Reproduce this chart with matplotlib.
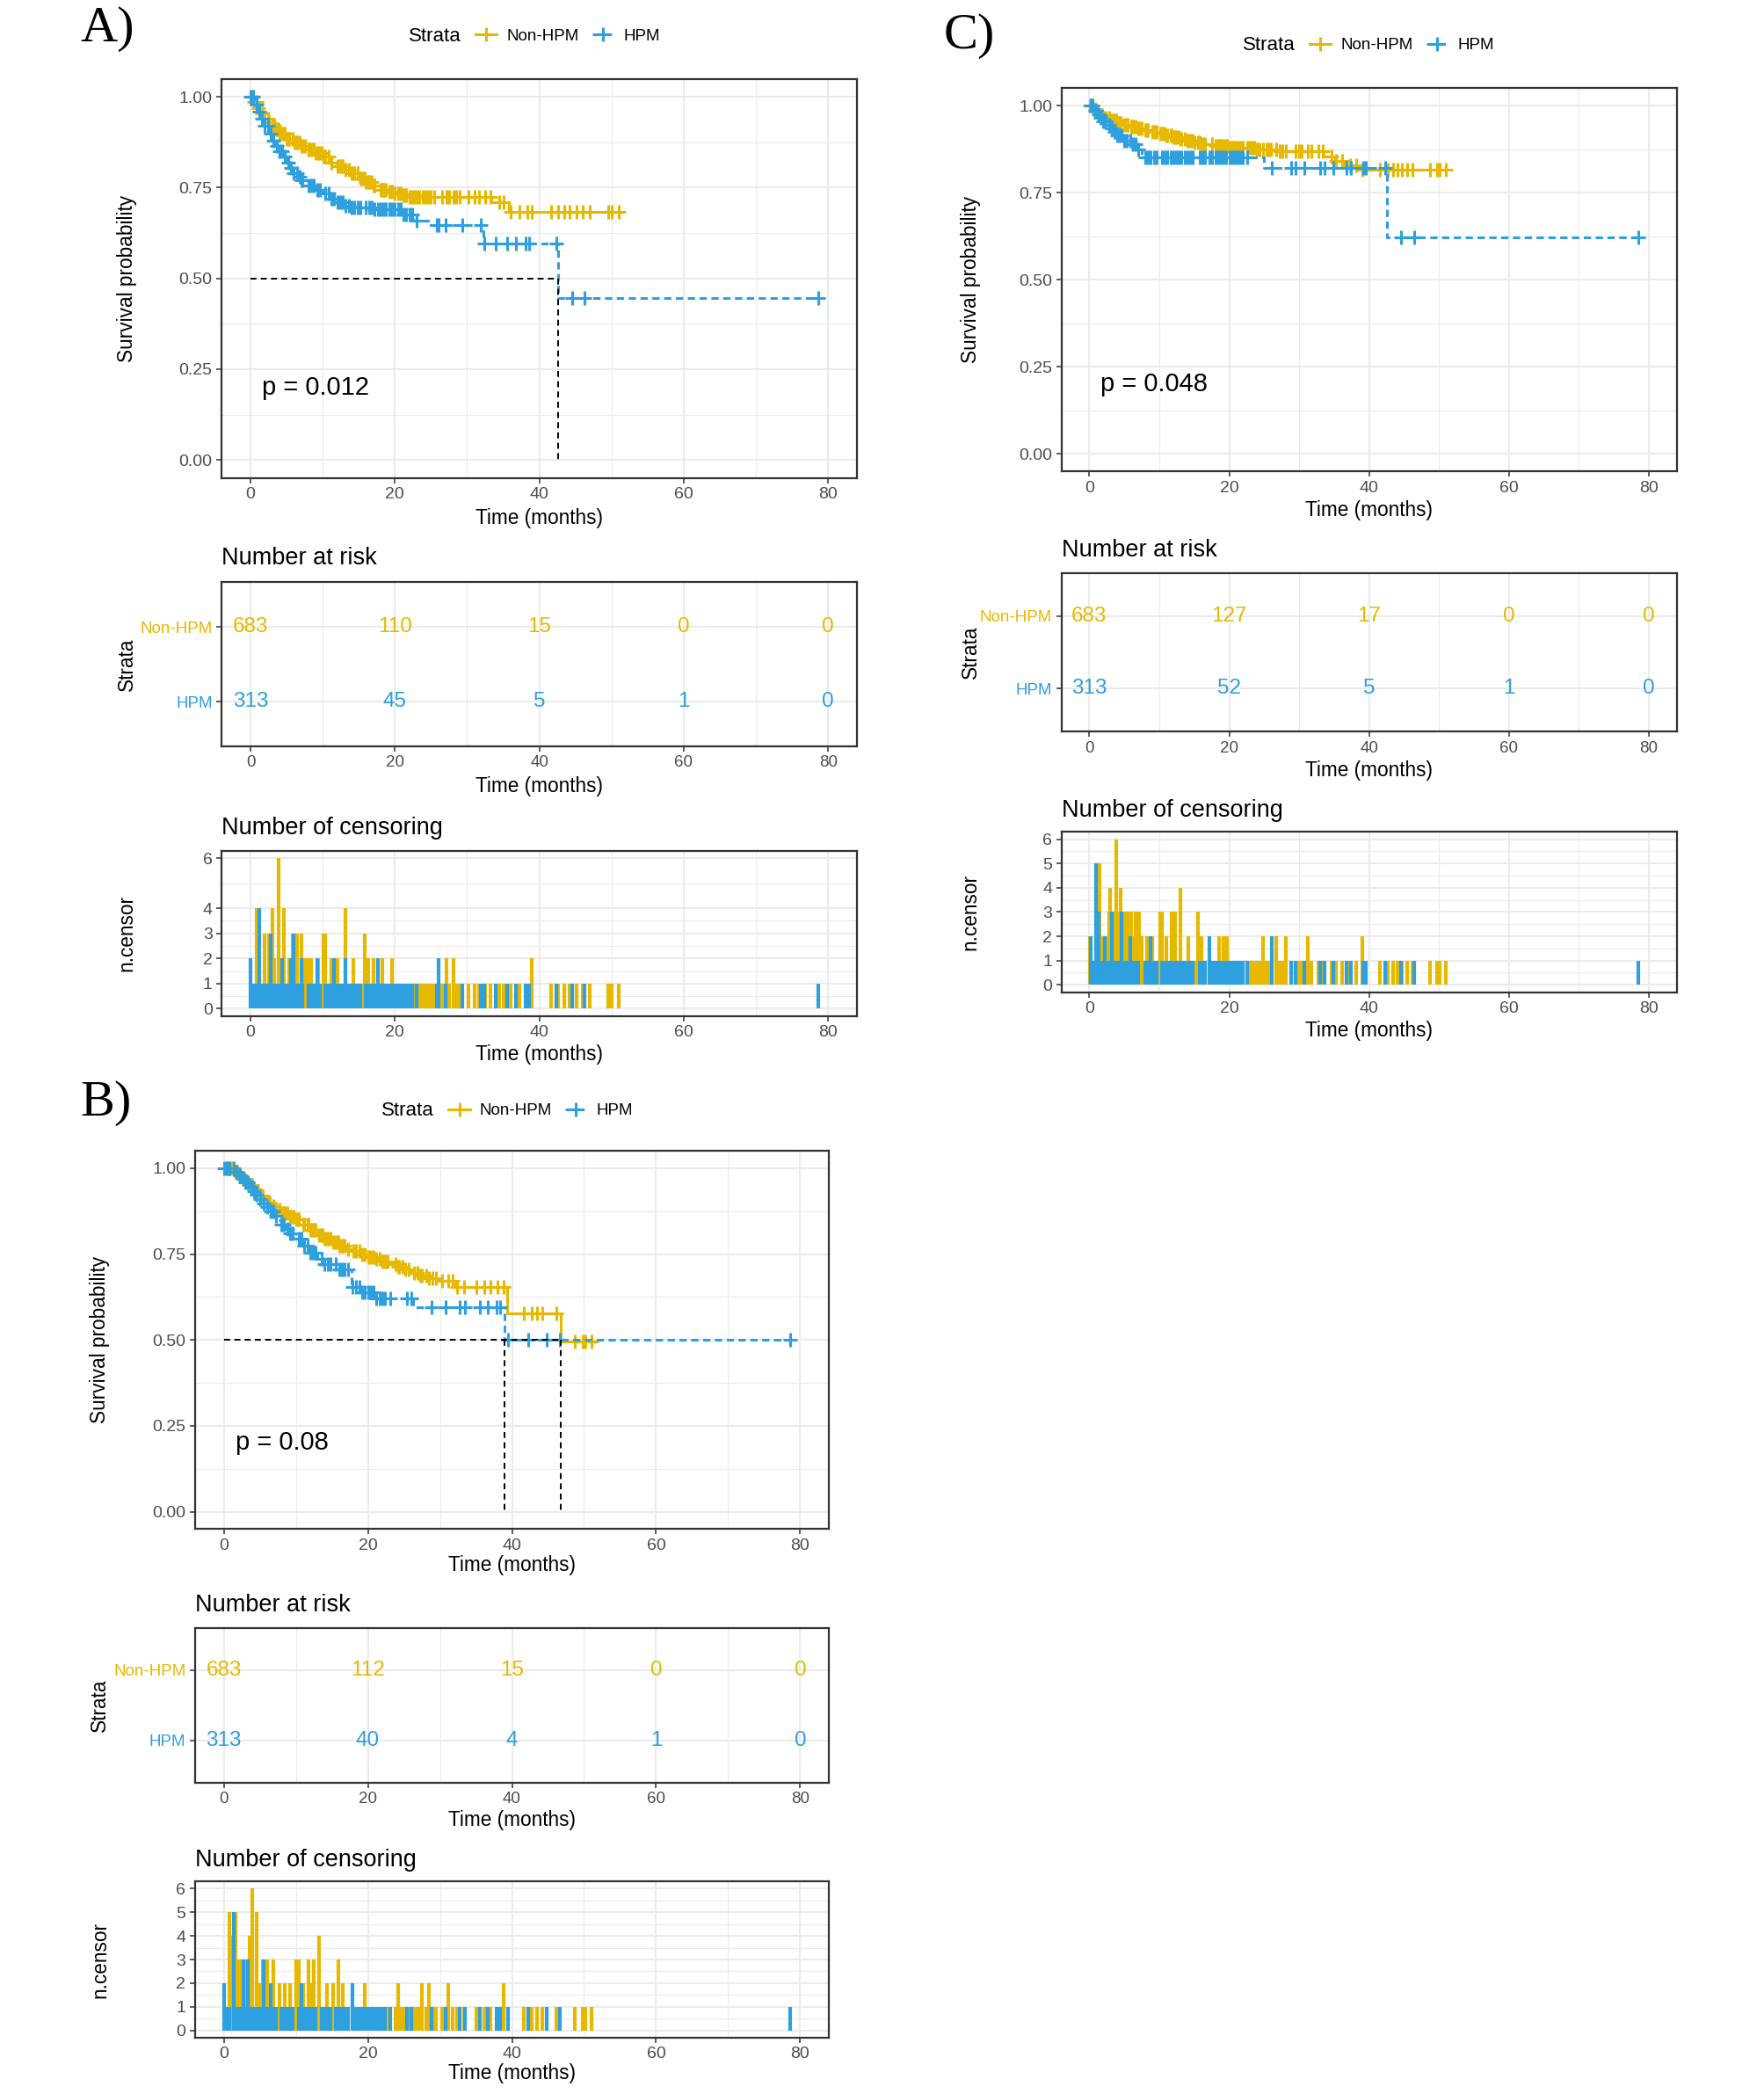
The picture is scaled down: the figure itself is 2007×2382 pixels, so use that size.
import matplotlib
matplotlib.use("Agg")
import matplotlib.pyplot as plt
from matplotlib.lines import Line2D
import numpy as np

plt.rcParams["font.family"] = ["Liberation Sans", "DejaVu Sans"]

YELLOW = "#E7B800"
BLUE = "#2E9FDF"
GRID = "#EBEBEB"
FRAME = "#333333"
TICKC = "#4D4D4D"

STRATA = ["Non-HPM", "HPM"]
TIME_TICKS = [0, 20, 40, 60, 80]
SURV_TICKS = [0.0, 0.25, 0.5, 0.75, 1.0]
SURV_LABELS = ["0.00", "0.25", "0.50", "0.75", "1.00"]

# ---------------- Panel A ----------------
A_NON_T = [0, 0.5, 1.0, 1.5, 2.0, 2.5, 3.0, 3.5, 4.0, 5.0, 6.0, 7.0, 8.0, 9.0, 10.0, 11.0,
           12.0, 13.0, 14.0, 15.0, 16.0, 17.0, 18.0, 19.0, 20.0, 21.0, 22.0, 33.3, 35.8]
A_NON_S = [1.0, 0.985, 0.97, 0.955, 0.94, 0.93, 0.92, 0.91, 0.90, 0.885, 0.875, 0.865, 0.855,
           0.845, 0.835, 0.82, 0.81, 0.80, 0.79, 0.775, 0.765, 0.755, 0.745, 0.74, 0.735, 0.73,
           0.725, 0.71, 0.684]
A_HPM_T = [0, 0.5, 1, 1.5, 2, 2.5, 3, 3.5, 4, 4.5, 5, 5.5, 6, 6.5, 7, 8, 9, 10, 11, 12, 13,
           14, 17, 21, 22.5, 25, 32.3, 42.6]
A_HPM_S = [1.0, 0.98, 0.96, 0.94, 0.92, 0.90, 0.88, 0.865, 0.85, 0.835, 0.82, 0.805, 0.79,
           0.78, 0.77, 0.755, 0.745, 0.735, 0.72, 0.71, 0.70, 0.695, 0.69, 0.675, 0.66, 0.647,
           0.596, 0.445]
A_NON_CENS_1 = [0.5, 1.6, 3.5, 5.0, 6.8, 9.0, 9.9, 12.7, 14.9, 15.5, 16.8, 18.5, 20.8, 21.5,
                22.6, 23.0, 23.4, 23.8, 24.2, 24.6, 25.0, 25.4, 26.5, 27.5, 28.5, 29.0, 30.2,
                31.0, 31.6, 32.5, 33.2, 34.4, 35.0, 36.0, 37.2, 38.4, 41.6, 42.6, 43.5, 44.2,
                45.2, 46.0, 47.0, 49.5, 50.0, 51.0,
                0.4, 0.8, 2.4, 3.2, 3.6, 4.0, 4.8, 5.2, 6.4, 7.2, 8.0, 8.8, 9.6, 10.8, 11.2,
                12.4, 12.8, 13.6, 14.0, 14.4, 14.8, 15.2, 16.0, 16.4, 17.2, 18.0, 18.4, 18.8,
                19.2, 20.0, 20.4, 21.2, 21.6, 22.0, 22.4]
A_NON_CENS_M = [(0.9, 4), (1.1, 3), (2.0, 3), (2.6, 3), (3.0, 4), (3.3, 2), (3.9, 6), (4.3, 2),
                (4.6, 4), (5.3, 2), (5.8, 3), (6.1, 2), (6.4, 3), (7.0, 3), (7.5, 2), (8.0, 2),
                (8.4, 2), (9.4, 2), (10.1, 3), (10.4, 3), (11.2, 2), (12.0, 2), (13.2, 4),
                (14.3, 2), (15.8, 3), (16.3, 2), (17.0, 2), (18.2, 2), (19.6, 2), (27.1, 2),
                (28.1, 2), (39.0, 2)]
A_HPM_CENS_1 = [0.4, 0.8, 1.6, 2.0, 2.4, 3.2, 3.6, 4.0, 4.8, 5.2, 6.4, 6.8, 7.2, 8.0, 8.4, 8.8,
                9.6, 10.4, 10.8, 11.2, 12.0, 12.4, 12.8, 13.6, 14.0, 14.4, 14.8, 15.2, 16.0,
                16.4, 16.8, 17.2, 18.0, 18.4, 18.8, 19.2, 19.6, 20.0, 20.4, 20.8, 21.2, 21.6,
                22.0, 22.4, 23.0, 25.8, 27.0, 29.3, 31.9, 32.4, 33.9, 35.5, 36.8, 38.1, 38.6,
                42.3, 44.6, 46.3, 78.6]
A_HPM_CENS_M = [(0.0, 2), (1.2, 4), (2.8, 3), (4.4, 2), (5.6, 2), (6.0, 3), (7.0, 2), (9.2, 2),
                (11.6, 2), (13.2, 2), (17.6, 2), (26.1, 2)]
A_RISK_NON = [683, 110, 15, 0, 0]
A_RISK_HPM = [313, 45, 5, 1, 0]
A_PVAL = "p = 0.012"
A_MEDIANS = [42.6]
A_CENS_TICKS = [0, 1, 2, 3, 4, 6]

# ---------------- Panel B ----------------
B_NON_T = [0, 1.5, 2, 2.5, 3, 3.5, 4, 4.5, 5, 5.5, 6, 6.5, 7, 8, 9, 10, 11, 12, 13, 14, 15, 16,
           17, 18, 19, 20, 21, 22, 23, 24, 25, 26, 27, 28.5, 30, 32, 39.3, 46.8]
B_NON_S = [1.0, 0.99, 0.98, 0.97, 0.96, 0.95, 0.94, 0.93, 0.92, 0.91, 0.90, 0.89, 0.88, 0.87,
           0.86, 0.85, 0.835, 0.82, 0.805, 0.795, 0.785, 0.775, 0.765, 0.76, 0.75, 0.74, 0.735,
           0.728, 0.72, 0.712, 0.705, 0.695, 0.688, 0.68, 0.672, 0.655, 0.578, 0.495]
B_HPM_T = [0, 1.5, 2, 2.5, 3, 3.5, 4, 4.5, 5, 5.5, 6, 6.5, 7, 7.5, 8, 8.5, 9, 10, 11, 12, 13, 14,
           16, 17.8, 19, 21, 26.3, 39.0]
B_HPM_S = [1.0, 0.99, 0.98, 0.97, 0.958, 0.946, 0.934, 0.922, 0.91, 0.898, 0.886, 0.874, 0.862,
           0.848, 0.835, 0.822, 0.81, 0.795, 0.775, 0.755, 0.735, 0.72, 0.705, 0.655, 0.638,
           0.622, 0.596, 0.5]
B_NON_CENS_1 = [0.4, 1.3, 4.2, 8.1, 9.7, 13.7, 14.8, 17.2, 18.0, 21.6, 22.8, 23.8, 24.3, 24.8,
                25.2, 25.7, 26.4, 26.9, 27.2, 28.1, 29.0, 29.4, 30.3, 31.8, 32.4, 33.3, 35.0,
                36.1, 37.0, 38.0, 41.6, 42.7, 43.5, 44.2, 46.2, 48.7, 49.8, 50.2, 51.0,
                0.8, 1.8, 2.2, 3.0, 3.8, 5.0, 6.0, 7.3, 8.0, 8.4, 8.8, 9.6, 10.4, 11.2, 11.6,
                12.4, 12.8, 13.6, 14.0, 14.4, 15.6, 16.0, 16.4, 16.8, 18.4, 18.8, 19.2, 20.0,
                20.4, 20.8, 21.2, 22.0, 22.4]
B_NON_CENS_M = [(0.8, 5), (1.2, 4), (1.6, 5), (1.9, 3), (2.3, 3), (2.6, 3), (2.9, 2), (3.2, 3),
                (3.6, 4), (3.9, 6), (4.6, 5), (5.0, 2), (5.4, 3), (6.0, 3), (6.4, 2), (6.9, 3),
                (7.7, 2), (8.5, 2), (9.2, 2), (10.1, 3), (10.4, 3), (11.0, 2), (11.8, 3),
                (12.0, 2), (12.5, 3), (13.2, 4), (14.3, 2), (15.2, 2), (15.9, 3), (16.5, 2),
                (19.6, 2), (24.2, 2), (27.5, 2), (28.5, 2), (31.2, 2), (38.9, 2)]
B_HPM_CENS_1 = [0.4, 0.8, 1.8, 2.2, 3.0, 3.8, 4.2, 4.6, 5.0, 6.0, 6.9, 7.3, 8.0, 8.4, 8.8, 9.2,
                9.6, 10.4, 11.2, 11.6, 12.0, 12.4, 12.8, 13.6, 14.0, 14.4, 14.8, 15.6, 16.0,
                16.4, 16.8, 17.2, 18.4, 18.8, 19.2, 19.6, 20.0, 20.4, 20.8, 21.2, 21.6, 22.0,
                22.4, 23.1, 25.4, 26.0, 28.8, 30.8, 32.7, 33.5, 35.6, 36.6, 37.9, 38.4, 39.4,
                42.3, 44.8, 46.6, 78.6]
B_HPM_CENS_M = [(0.0, 2), (1.4, 5), (2.7, 3), (3.4, 3), (5.6, 3), (6.5, 2), (10.8, 2), (17.9, 2)]
B_RISK_NON = [683, 112, 15, 0, 0]
B_RISK_HPM = [313, 40, 4, 1, 0]
B_PVAL = "p = 0.08"
B_MEDIANS = [39.0, 46.8]
B_CENS_TICKS = [0, 1, 2, 3, 4, 5, 6]

# ---------------- Panel C ----------------
C_NON_T = [0, 0.5, 1, 1.5, 2, 3, 4, 5, 6, 7, 8, 9, 10, 11, 12, 13, 14, 15, 16, 18, 20, 22, 24,
           27, 33.5, 35.2, 36.5, 38.5]
C_NON_S = [1.0, 0.99, 0.98, 0.972, 0.965, 0.957, 0.95, 0.945, 0.94, 0.935, 0.93, 0.925, 0.92,
           0.915, 0.91, 0.905, 0.90, 0.895, 0.89, 0.885, 0.88, 0.878, 0.873, 0.868, 0.855,
           0.84, 0.828, 0.815]
C_HPM_T = [0, 0.5, 1, 1.5, 2, 2.5, 3, 3.5, 4, 5, 6, 7, 7.5, 25.0, 42.5]
C_HPM_S = [1.0, 0.985, 0.975, 0.965, 0.955, 0.945, 0.935, 0.925, 0.915, 0.9, 0.89, 0.875,
           0.852, 0.822, 0.622]
C_NON_CENS_1 = [0.4, 3.3, 8.0, 15.0, 20.5, 21.6, 22.6, 23.0, 23.3, 23.6, 24.0, 24.3, 25.3,
                25.6, 26.0, 27.2, 27.6, 29.5, 30.0, 30.4, 31.8, 32.7, 33.4, 34.6, 35.3, 36.2,
                37.3, 38.2, 41.6, 42.7, 43.4, 44.1, 44.7, 45.5, 46.2, 48.7, 49.7, 50.1, 51.0,
                0.8, 1.6, 2.0, 3.6, 4.0, 4.4, 5.4, 6.2, 7.0, 8.4, 9.2, 9.6, 10.8, 11.2, 11.6,
                12.0, 12.4, 12.8, 13.2, 13.6, 14.0, 14.4, 14.8, 15.8, 16.2, 16.6, 17.6, 18.0,
                18.4, 18.8, 19.6, 20.0, 20.4, 20.8, 21.2, 22.0]
C_NON_CENS_M = [(0.1, 2), (1.5, 5), (1.8, 2), (2.4, 2), (2.8, 3), (3.0, 4), (3.5, 3), (3.8, 6),
                (4.2, 3), (4.5, 4), (5.0, 3), (5.5, 3), (6.0, 3), (6.3, 2), (6.6, 3), (7.1, 3),
                (7.5, 2), (8.3, 2), (9.0, 2), (10.1, 3), (10.4, 3), (11.0, 2), (11.8, 3),
                (12.3, 3), (13.0, 4), (14.2, 2), (15.6, 3), (16.0, 2), (18.6, 2), (19.2, 2),
                (19.7, 2), (24.8, 2), (26.7, 2), (28.1, 2), (31.3, 2), (39.0, 2)]
C_HPM_CENS_1 = [0.4, 0.8, 1.6, 2.0, 2.4, 2.8, 3.6, 4.0, 4.4, 5.0, 5.4, 6.2, 6.6, 7.0, 8.0, 8.4,
                9.2, 9.6, 10.4, 10.8, 11.2, 11.6, 12.0, 12.4, 12.8, 13.2, 13.6, 14.0, 14.4,
                14.8, 15.8, 16.2, 16.6, 17.6, 18.0, 18.4, 18.8, 19.2, 19.6, 20.0, 20.4, 20.8,
                21.2, 21.6, 22.0, 22.6, 28.8, 29.5, 30.8, 33.0, 33.6, 34.9, 36.8, 37.4, 39.2,
                39.6, 42.3, 44.6, 46.5, 78.5]
C_HPM_CENS_M = [(0.2, 2), (0.9, 5), (1.3, 3), (2.2, 2), (3.2, 3), (4.6, 3), (5.8, 2), (8.8, 2),
                (17.2, 2), (26.1, 2)]
C_RISK_NON = [683, 127, 17, 0, 0]
C_RISK_HPM = [313, 52, 5, 1, 0]
C_PVAL = "p = 0.048"
C_MEDIANS = []
C_CENS_TICKS = [0, 1, 2, 3, 4, 5, 6]

# layout, measured on the 1322 px wide reference
W, H = 2008, 2382
SC = 2008 / 1322
LAYOUT = {
    "A": dict(label=(60, 22), legend=(306, 27), surv=(166, 59, 642, 358), ylab_x=95,
              surv_xlab=388, risk_title=418, risk=(166, 436, 642, 559), risk_xlab=589,
              cens_title=620, cens=(166, 637, 642, 761), cens_xlab=790),
    "B": dict(label=(60, 826), legend=(286, 832), surv=(146, 862, 621, 1145), ylab_x=75,
              surv_xlab=1172, risk_title=1202, risk=(146, 1219, 621, 1335), risk_xlab=1363,
              cens_title=1393, cens=(146, 1409, 621, 1526), cens_xlab=1553),
    "C": dict(label=(707, 27), legend=(931, 34), surv=(795, 66, 1256, 353), ylab_x=727,
              surv_xlab=382, risk_title=412, risk=(795, 429, 1256, 548), risk_xlab=577,
              cens_title=607, cens=(795, 623, 1256, 743), cens_xlab=772),
}

HPM_DASH = (0, (2.7, 1.7))
MED_DASH = (0, (3.5, 2.5))
MARK = dict(marker="+", ms=12, mew=2.2)


def box(l, t, r, b):
    return [l * SC / W, 1 - b * SC / H, (r - l) * SC / W, (b - t) * SC / H]


def pt(x, y):
    return x * SC / W, 1 - y * SC / H


def frame(ax, yticks, ylabels, ylim, yminor, labelsize=14):
    ax.set_xlim(-4, 84)
    ax.set_xticks(TIME_TICKS)
    ax.set_xticks([10, 30, 50, 70], minor=True)
    ax.set_ylim(*ylim)
    ax.set_yticks(yticks)
    ax.set_yticklabels(ylabels)
    ax.set_yticks(yminor, minor=True)
    ax.grid(which="major", color=GRID, lw=1.5)
    ax.grid(which="minor", color=GRID, lw=0.8)
    ax.set_axisbelow(True)
    ax.tick_params(which="major", length=4.5, width=1.1, color=FRAME,
                   labelcolor=TICKC, labelsize=labelsize, pad=3)
    ax.tick_params(which="minor", length=0)
    for sp in ax.spines.values():
        sp.set_color(FRAME)
        sp.set_linewidth(1.6)


def step_value(times, surv, t):
    idx = np.searchsorted(times, t, side="right") - 1
    return np.asarray(surv)[idx]


def draw_panel(fig, key, km, cens, risk, pval, medians, cens_ticks):
    lay = LAYOUT[key]
    cx = (lay["surv"][0] + lay["surv"][2]) / 2

    fig.text(*pt(*lay["label"]), f"{key})", family="Liberation Serif", fontsize=42,
             ha="left", va="center")

    # legend
    lx, ly = lay["legend"]
    fig.text(*pt(lx, ly), "Strata", fontsize=16, ha="left", va="center")
    handles = [Line2D([], [], color=YELLOW, lw=2.2, **MARK),
               Line2D([], [], color=BLUE, lw=2.2, ls=HPM_DASH, **MARK)]
    fig.legend(handles, STRATA, loc="center left", bbox_to_anchor=pt(lx + 50, ly), ncol=2,
               frameon=False, fontsize=13.5, handlelength=1.3, handletextpad=0.6,
               columnspacing=0.8, borderpad=0, borderaxespad=0)

    # survival curves
    ax = fig.add_axes(box(*lay["surv"]))
    frame(ax, SURV_TICKS, SURV_LABELS, (-0.05, 1.05), [0.125, 0.375, 0.625, 0.875])
    for name, color, ls in [("Non-HPM", YELLOW, "-"), ("HPM", BLUE, HPM_DASH)]:
        T, Sv = km[name]
        ones, multi = cens[name]
        ct = sorted(ones + [t for t, _ in multi])
        end = max(ct)
        ax.step(T + [end], Sv + [Sv[-1]], where="post", color=color, lw=2.2, ls=ls)
        ax.plot(ct, step_value(T, Sv, ct), ls="none", color=color, **MARK)
    if medians:
        ax.plot([0, max(medians)], [0.5, 0.5], color="black", lw=1.4, ls=MED_DASH)
        for m in medians:
            ax.plot([m, m], [0.5, 0], color="black", lw=1.4, ls=MED_DASH)
    ax.text(1.6, 0.2, pval, fontsize=21, ha="left", va="center")
    fig.text(*pt(lay["ylab_x"], (lay["surv"][1] + lay["surv"][3]) / 2), "Survival probability",
             rotation=90, fontsize=16.3, ha="center", va="center")
    fig.text(*pt(cx, lay["surv_xlab"]), "Time (months)", fontsize=16.3, ha="center", va="center")

    # number at risk
    fig.text(*pt(lay["risk"][0], lay["risk_title"]), "Number at risk", fontsize=19.5,
             ha="left", va="center")
    ax = fig.add_axes(box(*lay["risk"]))
    frame(ax, [1, 2], ["HPM", "Non-HPM"], (0.4, 2.6), [], labelsize=13.5)
    for lbl, c in zip(ax.get_yticklabels(), [BLUE, YELLOW]):
        lbl.set_color(c)
    for row, name, color in [(2, "Non-HPM", YELLOW), (1, "HPM", BLUE)]:
        for t, n in zip(TIME_TICKS, risk[name]):
            ax.text(t, row, str(n), color=color, fontsize=17.5, ha="center", va="center")
    fig.text(*pt(lay["ylab_x"], (lay["risk"][1] + lay["risk"][3]) / 2), "Strata",
             rotation=90, fontsize=16.3, ha="center", va="center")
    fig.text(*pt(cx, lay["risk_xlab"]), "Time (months)", fontsize=16.3, ha="center", va="center")

    # number of censoring
    fig.text(*pt(lay["cens"][0], lay["cens_title"]), "Number of censoring", fontsize=19.5,
             ha="left", va="center")
    ax = fig.add_axes(box(*lay["cens"]))
    mids = [(a + b) / 2 for a, b in zip(cens_ticks[:-1], cens_ticks[1:])]
    frame(ax, cens_ticks, [str(v) for v in cens_ticks], (-0.3, 6.3), mids)
    for name, color in [("Non-HPM", YELLOW), ("HPM", BLUE)]:
        ones, multi = cens[name]
        times = ones + [t for t, _ in multi]
        counts = [1] * len(ones) + [n for _, n in multi]
        ax.vlines(times, 0, counts, color=color, lw=3.0)
    fig.text(*pt(lay["ylab_x"], (lay["cens"][1] + lay["cens"][3]) / 2), "n.censor",
             rotation=90, fontsize=16.3, ha="center", va="center")
    fig.text(*pt(cx, lay["cens_xlab"]), "Time (months)", fontsize=16.3, ha="center", va="center")


def main():
    fig = plt.figure(figsize=(W / 100, H / 100), dpi=100, facecolor="white")

    draw_panel(fig, "A",
               {"Non-HPM": (A_NON_T, A_NON_S), "HPM": (A_HPM_T, A_HPM_S)},
               {"Non-HPM": (A_NON_CENS_1, A_NON_CENS_M), "HPM": (A_HPM_CENS_1, A_HPM_CENS_M)},
               {"Non-HPM": A_RISK_NON, "HPM": A_RISK_HPM}, A_PVAL, A_MEDIANS, A_CENS_TICKS)
    draw_panel(fig, "B",
               {"Non-HPM": (B_NON_T, B_NON_S), "HPM": (B_HPM_T, B_HPM_S)},
               {"Non-HPM": (B_NON_CENS_1, B_NON_CENS_M), "HPM": (B_HPM_CENS_1, B_HPM_CENS_M)},
               {"Non-HPM": B_RISK_NON, "HPM": B_RISK_HPM}, B_PVAL, B_MEDIANS, B_CENS_TICKS)
    draw_panel(fig, "C",
               {"Non-HPM": (C_NON_T, C_NON_S), "HPM": (C_HPM_T, C_HPM_S)},
               {"Non-HPM": (C_NON_CENS_1, C_NON_CENS_M), "HPM": (C_HPM_CENS_1, C_HPM_CENS_M)},
               {"Non-HPM": C_RISK_NON, "HPM": C_RISK_HPM}, C_PVAL, C_MEDIANS, C_CENS_TICKS)

    fig.savefig("out.png", dpi=100, facecolor="white")
    plt.close(fig)


if __name__ == "__main__":
    main()
